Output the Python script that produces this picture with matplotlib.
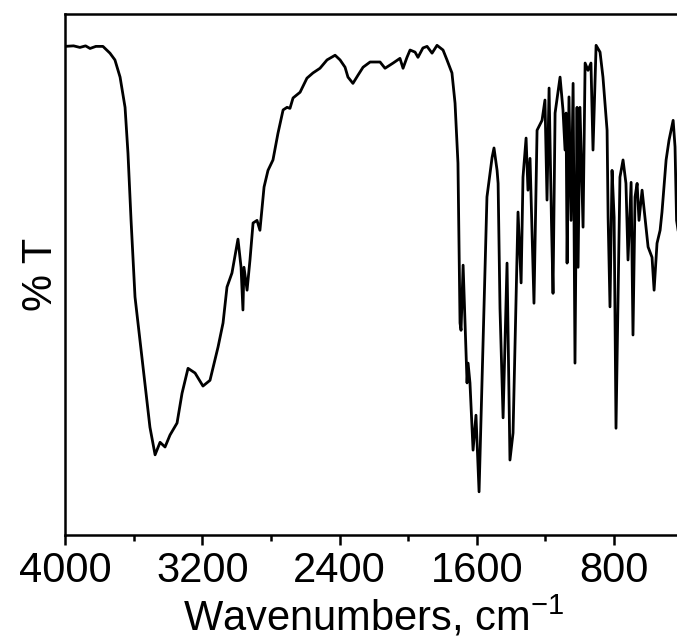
# IR spectrum, % T vs wavenumber
import numpy as np
import matplotlib
matplotlib.use('Agg')
import matplotlib.pyplot as plt

plt.rcParams['font.family'] = ['Liberation Sans', 'DejaVu Sans']
plt.rcParams['mathtext.fontset'] = 'custom'
plt.rcParams['mathtext.rm'] = 'Liberation Sans'
plt.rcParams['mathtext.it'] = 'Liberation Sans'

# spectrum (wavenumber in cm-1, transmittance in arbitrary %)
wavenumber = [
  4000, 3950, 3913, 3880, 3854, 3820, 3779, 3738, 3709, 3679, 3650, 3633, 3615,
  3592, 3545, 3505, 3475, 3446, 3417, 3388, 3347, 3318, 3283, 3242, 3196, 3155,
  3108, 3079, 3056, 3027, 2992, 2974, 2963, 2957, 2939, 2922, 2904, 2881, 2864,
  2840, 2817, 2788, 2759, 2729, 2706, 2689, 2671, 2630, 2590, 2555, 2514, 2473,
  2426, 2397, 2368, 2351, 2322, 2292, 2263, 2222, 2164, 2135, 2088, 2048, 2030,
  2007, 1989, 1960, 1943, 1914, 1890, 1861, 1832, 1797, 1774, 1745, 1727, 1710,
  1698, 1692, 1680, 1657, 1651, 1640, 1622, 1605, 1587, 1541, 1511, 1500, 1482,
  1476, 1465, 1447, 1424, 1407, 1389, 1360, 1342, 1331, 1313, 1302, 1290, 1280,
  1267, 1249, 1220, 1203, 1191, 1179, 1165, 1156, 1144, 1115, 1098, 1086, 1080,
  1074, 1063, 1051, 1039, 1028, 1016, 1010, 999, 981, 969, 952, 935, 923, 905,
  882, 865, 841, 835, 824, 812, 800, 789, 766, 748, 731, 719, 701, 690, 678,
  666, 655, 637, 620, 602, 579, 567, 550, 532, 521, 497, 480, 456, 445, 436,
  425, 410, 400,
]
transmittance = [
  93.8, 93.9, 93.6, 93.9, 93.4, 93.8, 93.8, 92.5, 91.2, 87.9, 82.1, 73.3, 60.4,
  45.7, 32.2, 20.7, 15.4, 17.8, 16.9, 19.2, 21.5, 27.2, 32.0, 31.1, 28.6, 29.7,
  36.1, 40.7, 47.6, 50.3, 56.8, 51.4, 43.2, 51.4, 47.0, 52.8, 59.9, 60.4, 58.5,
  66.8, 70.0, 72.0, 77.1, 81.6, 82.1, 81.9, 83.9, 85.0, 87.7, 88.7, 89.6, 91.2,
  92.1, 91.2, 89.8, 87.9, 86.7, 88.3, 89.8, 90.8, 90.8, 89.6, 90.6, 91.5, 89.6,
  91.7, 93.1, 92.7, 91.7, 93.5, 93.8, 92.5, 94.0, 93.1, 91.2, 88.7, 82.9, 71.4,
  40.7, 39.3, 51.8, 29.2, 33.0, 29.2, 16.3, 23.0, 8.3, 64.9, 72.5, 74.3, 70.0,
  67.5, 43.5, 22.5, 52.2, 14.4, 19.6, 62.0, 48.4, 68.7, 76.2, 66.2, 72.3, 60.0,
  44.5, 77.7, 79.6, 83.5, 64.3, 85.8, 60.0, 46.4, 81.0, 87.9, 81.6, 73.9, 81.0,
  52.2, 84.1, 60.4, 86.7, 33.0, 82.1, 51.4, 82.1, 59.1, 90.6, 89.2, 90.6, 73.9, 94.0,
  92.7, 87.9, 77.7, 61.0, 43.8, 70.0, 61.0, 20.5, 68.7, 72.0, 67.5, 52.8, 67.7,
  38.4, 64.9, 67.5, 60.4, 66.2, 61.0, 55.3, 53.3, 47.0, 56.0, 58.5, 62.0, 72.0,
  75.8, 79.6, 74.5, 60.4, 58.0, 60.0, 62.0,
]

major_ticks = [4000, 3200, 2400, 1600, 800]
minor_ticks = [3600, 2800, 2000, 1200, 400]

fig = plt.figure(figsize=(6.77, 6.40), dpi=100)
ax = fig.add_axes([0.096, 0.164, 0.9125, 0.814])

ax.plot(wavenumber, transmittance, color='black', lw=2.0, solid_joinstyle='round')

ax.set_xlim(4000, 400)
ax.set_ylim(0, 100)
ax.set_xticks(major_ticks)
ax.set_xticks(minor_ticks, minor=True)
ax.set_yticks([])
ax.tick_params(axis='x', which='major', direction='out', length=7.5, width=1.8,
               labelsize=30, pad=4)
ax.tick_params(axis='x', which='minor', direction='out', length=4.5, width=1.8)
for s in ax.spines.values():
  s.set_linewidth(1.8)

ax.set_xlabel('Wavenumbers, cm$^{-1}$', fontsize=30, labelpad=2)
ax.set_ylabel('% T', fontsize=30, labelpad=3)

fig.savefig('out.png', dpi=100)
